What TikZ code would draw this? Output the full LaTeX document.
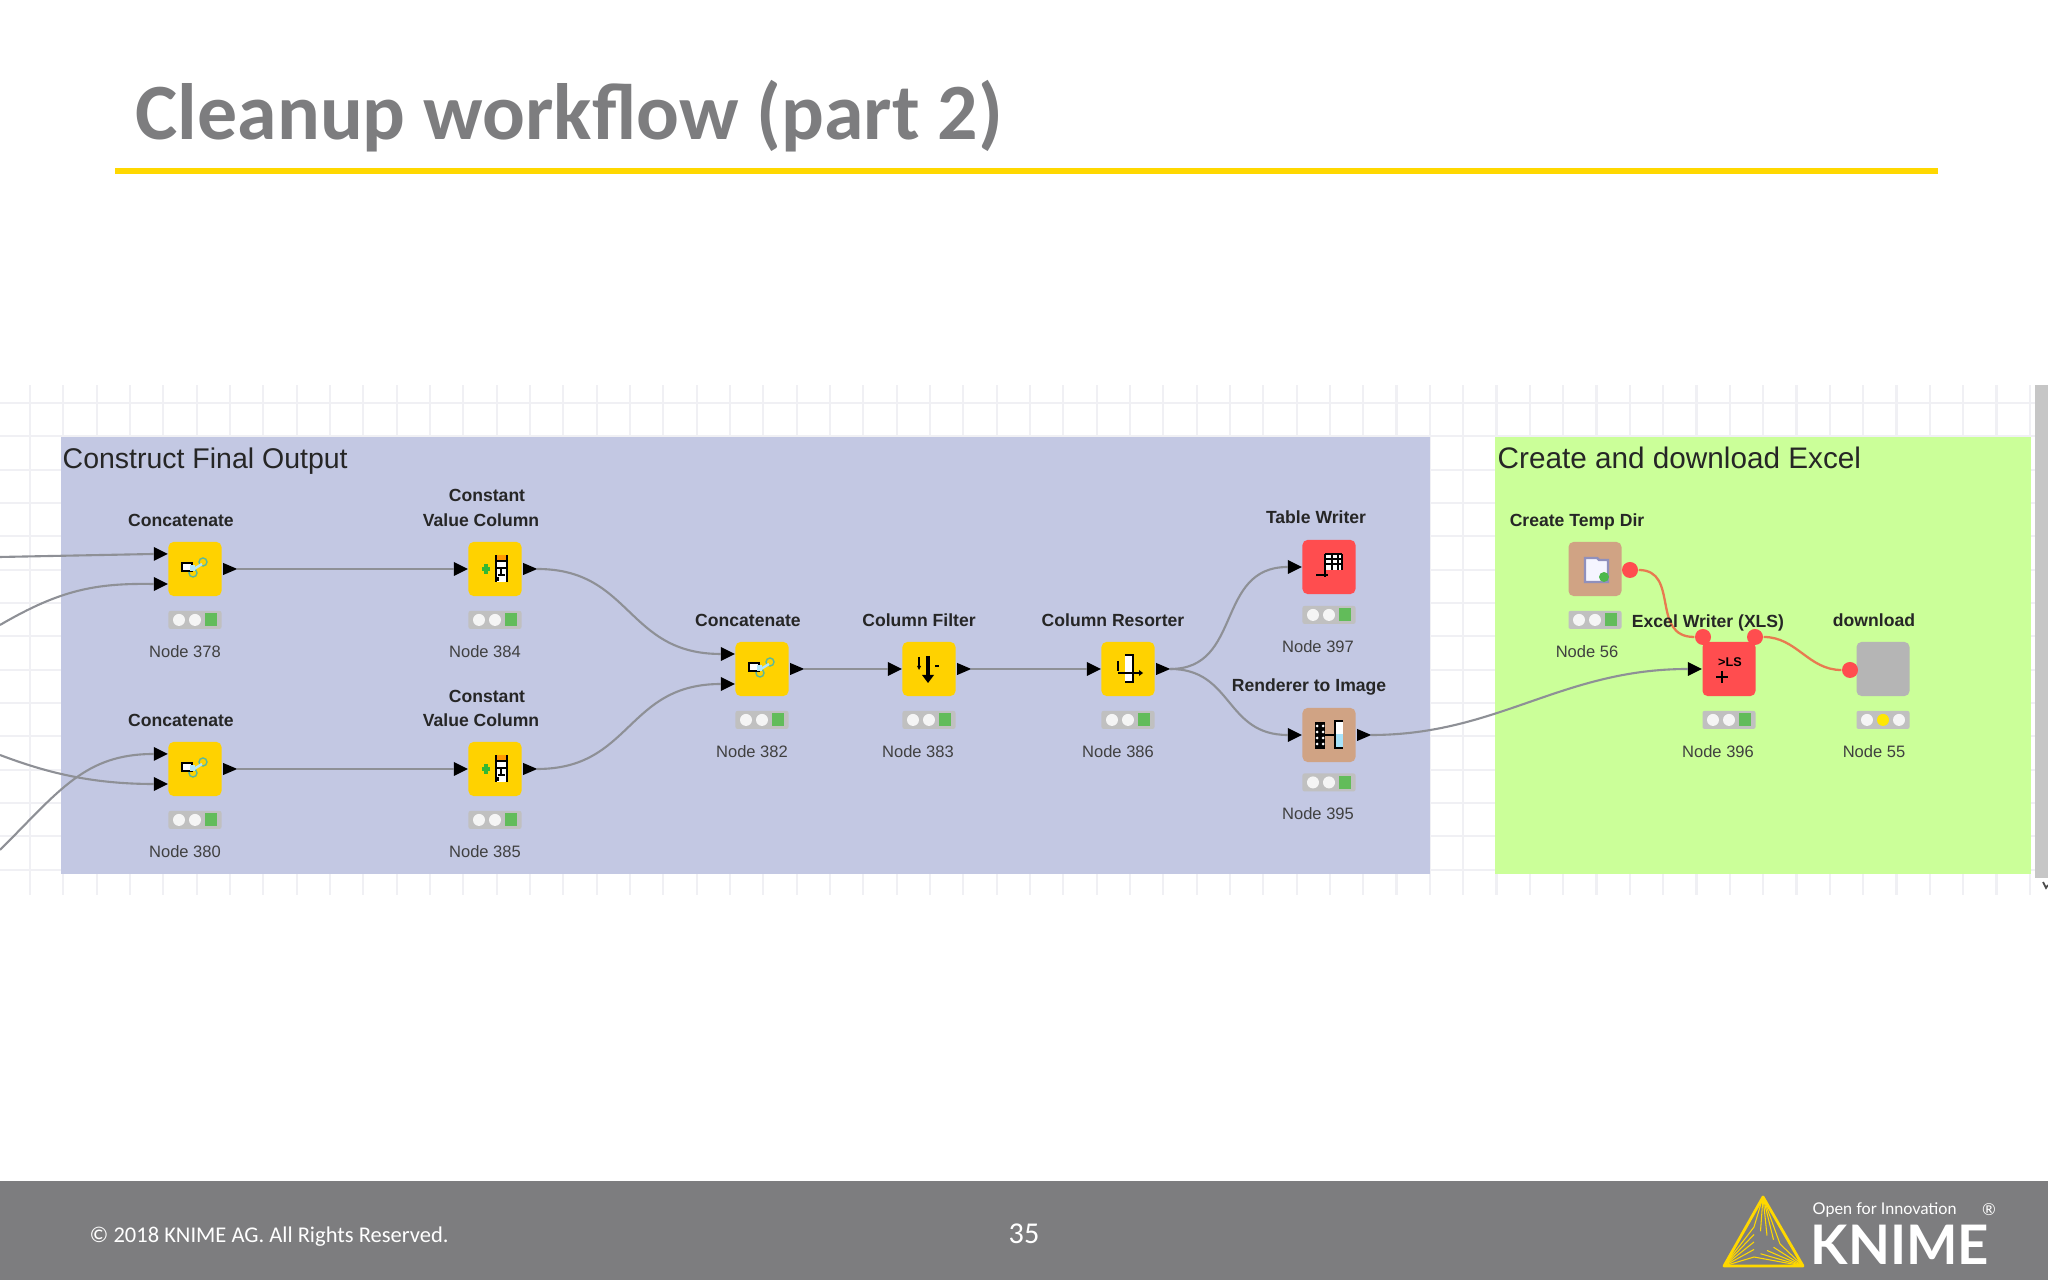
\documentclass[tikz,border=0pt]{standalone}
\usepackage{fontspec}
\setmainfont{Liberation Sans}
\newfontfamily\slidefont{Carlito}
\newfontfamily\logofont{Lato}
\usetikzlibrary{positioning,shapes.geometric,calc}

\begin{document}
\begin{tikzpicture}[x=0.01cm,y=-0.01cm]

	% Colours
	\definecolor{slidegray}{HTML}{7D7D7F}
	\definecolor{rulecolor}{HTML}{FFD800}
	\definecolor{panelblue}{HTML}{C3C8E3}
	\definecolor{panelgreen}{HTML}{CBFF99}
	\definecolor{gridcolor}{HTML}{F0F0F4}
	\definecolor{wirecolor}{HTML}{8E9096}
	\definecolor{flowcolor}{HTML}{E87A50}
	\definecolor{nodeyellow}{HTML}{FFD200}
	\definecolor{nodered}{HTML}{FF4D4F}
	\definecolor{nodebrown}{HTML}{D0A384}
	\definecolor{nodegray}{HTML}{B5B5B5}
	\definecolor{lightgreen}{HTML}{62BC5A}
	\definecolor{linkgreen}{HTML}{5CB89A}

	% Styles
	\tikzstyle{gridline}=[gridcolor, line width=0.6pt]
	\tikzstyle{wire}=[wirecolor, line width=0.6pt]
	\tikzstyle{flow}=[flowcolor, line width=0.65pt]
	\tikzstyle{icon}=[rectangle, rounded corners=0.05cm, minimum width=0.53cm, minimum height=0.54cm, inner sep=0pt]
	\tikzstyle{lightbar}=[rectangle, rounded corners=0.02cm, fill=nodegray!85!white, minimum width=0.53cm, minimum height=0.18cm, inner sep=0pt]
	\tikzstyle{inport}=[isosceles triangle, isosceles triangle stretches, fill=black, minimum width=0.14cm, minimum height=0.14cm, inner sep=0pt, outer sep=0pt, anchor=east]
	\tikzstyle{outport}=[isosceles triangle, isosceles triangle stretches, fill=black, minimum width=0.12cm, minimum height=0.14cm, inner sep=0pt, outer sep=0pt, anchor=west]
	\tikzstyle{flowport}=[circle, fill=nodered, minimum size=0.16cm, inner sep=0pt]
	\tikzstyle{caption}=[font=\fontsize{5}{6}\selectfont\bfseries, text=black!85, inner sep=0pt]
	\tikzstyle{nodeid}=[font=\fontsize{4.7}{6}\selectfont, text=black!75, inner sep=0pt]
	\tikzstyle{paneltitle}=[text=black!85, anchor=base west, inner sep=0pt]

	% Icon glyphs
	\tikzset{
		glyphconcat/.pic={
			\draw[linkgreen, line width=0.4pt] (8,-7) circle (4) (-2,4) circle (4);
			\draw[cyan!30!white, line width=0.7pt] (-1,0) -- (7,-5);
			\draw[black, fill=white, line width=0.5pt] (-13,-6) rectangle (-3,2);
			\fill[cyan!30!white] (-5,-4) rectangle (0,2);
		},
		glyphconstant/.pic={
			\draw[green!65!black!80!white, line width=1pt] (-13,0) -- (-5,0) (-9,-5) -- (-9,5);
			\fill[white] (1,-12) rectangle (12,13);
			\fill[orange!80!yellow] (1,-14) rectangle (12,-8);
			\draw[black, line width=0.6pt] (1,-14) -- (1,13) (12,-14) -- (12,13) (1,-8) -- (12,-8) (1,-1) -- (12,-1) (6,-1) -- (6,5);
			\draw[black, line width=0.5pt] (3,6) -- (10,6) (3,12) -- (3,8);
		},
		glyphfilter/.pic={
			\draw[black, line width=0.9pt] (-1,-13) -- (-1,9);
			\fill[black] (-7,6) -- (5,6) -- (-1,14) -- cycle;
			\draw[black, line width=0.6pt] (-10,-12) -- (-10,-2);
			\fill[black] (-12,-3) -- (-8,-3) -- (-10,1) -- cycle;
			\draw[black, line width=0.5pt] (6,-3) -- (10,-3);
		},
		glyphresort/.pic={
			\fill[white] (-3,-13) rectangle (5,12);
			\draw[black, line width=0.6pt] (-3,-14) -- (5,-14) -- (5,13) -- (-3,13);
			\draw[black, line width=0.6pt] (-10,4) -- (12,4);
			\fill[black] (11,1) -- (15,4) -- (11,7) -- cycle;
			\draw[black, line width=0.6pt] (-10,-8) -- (-10,2);
		},
		glyphwriter/.pic={
			\fill[white] (-4,-12) rectangle (13,3);
			\draw[black, line width=0.5pt] (-4,-13) -- (13,-13) (-4,-8) -- (13,-8) (-4,-3) -- (13,-3) (3,-13) -- (3,3) (9,-13) -- (9,3) (13,-13) -- (13,3);
			\draw[black, line width=0.6pt] (-4,-13) -- (-4,10);
			\draw[black, line width=0.8pt] (-13,8) -- (-1,8);
		},
		glyphrender/.pic={
			\fill[black] (-14,-13) rectangle (-4,14);
			\foreach \r in {-9,-3,3,9} {
				\fill[white] (-12,\r) circle (1.5);
				\fill[white] (-6,\r) circle (1.5);
			}
			\draw[black, line width=0.7pt] (-4,0) -- (5,0);
			\fill[white] (6,-13) rectangle (14,-1);
			\fill[cyan!35!white] (6,-1) rectangle (14,13);
			\draw[black, line width=0.6pt] (14,-14) -- (6,-14) -- (6,13) -- (14,13);
		},
		glyphfolder/.pic={
			\draw[blue!25!gray!70!white, fill=blue!4!white, line width=0.7pt] (-10,-11) -- (2,-11) -- (4,-9) -- (13,-9) -- (13,13) -- (-10,13) -- cycle;
			\fill[green!60!black!70!white] (9,8) circle (5);
		},
		glyphexcel/.pic={
			\node[font=\fontsize{3.6}{4}\selectfont\bfseries, inner sep=0pt] (xlstext) at (1,-7) {>LS};
			\draw[black, line width=0.7pt] (-13,8) -- (-1,8) (-7,2) -- (-7,14);
		},
	}

	\useasboundingbox (0,0) rectangle (2048,1280);

	% Grid of the canvas
	\foreach \gx in {0,...,60} {
		\draw[gridline] (30+33.33*\gx,385) -- (30+33.33*\gx,895);
	}
	\foreach \gy in {0,...,14} {
		\draw[gridline] (0,403+33.33*\gy) -- (2035,403+33.33*\gy);
	}
	\fill[gray!45!white] (2035,385) rectangle (2048,878);
	\draw[black!70, line width=0.5pt] (2043,882) -- (2046,888) -- (2048,885);

	% Panels
	\fill[panelblue] (61,437) rectangle (1430,874);
	\fill[panelgreen] (1495,437) rectangle (2031,874);
	\node[paneltitle, font=\fontsize{8.1}{10}\selectfont] (titleoutput) at (62,469) {Construct Final Output};
	\node[paneltitle, font=\fontsize{8.45}{10}\selectfont] (titleexcel) at (1497,469) {Create and download Excel};

	% Nodes and traffic lights
	\foreach \id/\x/\y/\c/\g/\d in {378/195/569/nodeyellow/glyphconcat/0.135, 384/495/569/nodeyellow/glyphconstant/0.135,
		380/195/769/nodeyellow/glyphconcat/0.135, 385/495/769/nodeyellow/glyphconstant/0.135,
		382/762/669/nodeyellow/glyphconcat/0.135, 383/929/669/nodeyellow/glyphfilter/0.135, 386/1128/669/nodeyellow/glyphresort/0.135,
		397/1329/567/nodered/glyphwriter/0.105, 395/1329/735/nodebrown/glyphrender/0.1,
		56/1595/569/nodebrown/glyphfolder/0.135, 396/1729/669/nodered/glyphexcel/0.135} {
		\node[icon, fill=\c] (n\id) at (\x,\y) {};
		\pic at (\x,\y) {\g};
		\node[lightbar, below=\d cm of n\id] (l\id) {};
		\fill[white!92!gray] ([xshift=-0.16cm]l\id.center) circle (0.06cm);
		\fill[white!92!gray] (l\id.center) circle (0.06cm);
		\fill[lightgreen] ([xshift=0.1cm,yshift=-0.065cm]l\id.center) rectangle ([xshift=0.22cm,yshift=0.065cm]l\id.center);
	}
	\node[icon, fill=nodegray] (n55) at (1883,669) {};
	\node[lightbar, below=0.135cm of n55] (l55) {};
	\fill[white!92!gray] ([xshift=-0.16cm]l55.center) circle (0.06cm);
	\fill[yellow!90!orange] (l55.center) circle (0.06cm);
	\fill[white!92!gray] ([xshift=0.16cm]l55.center) circle (0.06cm);

	% Ports
	\foreach \id in {384,385,383,386,397,395,396} {
		\node[inport] (i\id) at (n\id.west) {};
	}
	\foreach \id in {378,380,382} {
		\node[inport] (i\id a) at ([yshift=0.15cm]n\id.west) {};
		\node[inport] (i\id b) at ([yshift=-0.15cm]n\id.west) {};
	}
	\foreach \id in {378,384,380,385,382,383,386,395} {
		\node[outport] (o\id) at ([xshift=0.01cm]n\id.east) {};
	}

	% Wires
	\coordinate (offa) at (0,557);
	\coordinate (offb) at (0,625);
	\coordinate (offc) at (0,755);
	\coordinate (offd) at (0,850);
	\draw[wire] (offa) -- (i378a.west);
	\draw[wire] (offb) .. controls (60,590) and (95,583) .. (i378b.west);
	\draw[wire] (offc) .. controls (45,772) and (90,784) .. (i380b.west);
	\draw[wire] (offd) .. controls (60,790) and (85,754) .. (i380a.west);
	\draw[wire] (o378.east) -- (i384.west);
	\draw[wire] (o380.east) -- (i385.west);
	\draw[wire] (o384.east) to[out=0, in=180, looseness=1.2] (i382a.west);
	\draw[wire] (o385.east) to[out=0, in=180, looseness=1.2] (i382b.west);
	\draw[wire] (o382.east) -- (i383.west);
	\draw[wire] (o383.east) -- (i386.west);
	\draw[wire] (o386.east) to[out=0, in=180, looseness=1.2] (i397.west);
	\draw[wire] (o386.east) to[out=0, in=180, looseness=1.2] (i395.west);
	\draw[wire] (o395.east) to[out=0, in=180] (i396.west);

	% Flow variable ports and wires
	\node[flowport] (f56) at (1630,570) {};
	\node[flowport] (f396a) at (1703,637) {};
	\node[flowport] (f396b) at (1755,637) {};
	\node[flowport] (f55) at (1850,670) {};
	\draw[flow] (f56) .. controls (1680,570) and (1650,637) .. (f396a);
	\draw[flow] (f396b) to[out=0, in=180] (f55);

	% Captions
	\foreach \x/\y/\txt [count=\k] in {181/520/Concatenate, 487/495/Constant, 481/520/Value Column,
		181/720/Concatenate, 487/696/Constant, 481/720/Value Column,
		748/620/Concatenate, 919/620/Column Filter, 1113/620/Column Resorter,
		1316/517/Table Writer, 1309/687/Renderer to Image, 1577/522/Create Temp Dir,
		1708/623/Excel Writer (XLS), 1874/620/download} {
		\node[caption] (cap\k) at (\x,\y) {\txt};
	}
	\foreach \x/\y/\num in {185/652/378, 485/652/384, 185/852/380, 485/852/385,
		752/752/382, 918/752/383, 1118/752/386, 1318/647/397, 1318/814/395,
		1587/652/56, 1718/752/396, 1874/752/55} {
		\node[nodeid] (id\num) at (\x,\y) {Node \num};
	}

	% Slide frame
	\node[font=\slidefont\bfseries\fontsize{22.7}{26}\selectfont, text=slidegray, anchor=base west, inner sep=0pt] (slidetitle) at (135,140) {Cleanup workflow (part 2)};
	\fill[rulecolor] (115,168) rectangle (1938,174);
	\fill[slidegray] (0,1181) rectangle (2048,1280);
	\node[font=\slidefont\fontsize{6.4}{8}\selectfont, text=white, anchor=west, inner sep=0pt] (copyright) at (89,1237) {© 2018 KNIME AG. All Rights Reserved.};
	\node[font=\slidefont\fontsize{8.6}{10}\selectfont, text=white, inner sep=0pt] (pagenum) at (1024,1234) {35};

	% Logo
	\coordinate (lgA) at (1763,1197);
	\coordinate (lgB) at (1724,1266);
	\coordinate (lgC) at (1803,1266);
	\coordinate (lgD) at (1754,1227);
	\coordinate (lgE) at (1754,1257);
	\coordinate (lgF) at (1780,1244);
	\draw[rulecolor, line width=0.8pt, line join=round] (lgA) -- (lgB) -- (lgC) -- cycle;
	\foreach \t in {0,0.25,...,1.01} {
		\draw[rulecolor, line width=0.3pt] (lgA) -- ($(lgD)!\t!(lgF)$);
		\draw[rulecolor, line width=0.3pt] (lgB) -- ($(lgE)!\t!(lgD)$);
		\draw[rulecolor, line width=0.3pt] (lgC) -- ($(lgF)!\t!(lgE)$);
	}
	\node[font=\logofont\fontsize{4.6}{6}\selectfont, text=white, anchor=west, inner sep=0pt] (openfor) at (1812,1210) {Open for Innovation};
	\node[font=\logofont\fontsize{4.7}{6}\selectfont, text=white, inner sep=0pt] (regmark) at (1989,1210) {®};
	\node[font=\logofont\bfseries\fontsize{15.5}{18}\selectfont, text=white, anchor=base west, inner sep=0pt] (knimeword) at (1810,1265) {KNIME};

\end{tikzpicture}
\end{document}
